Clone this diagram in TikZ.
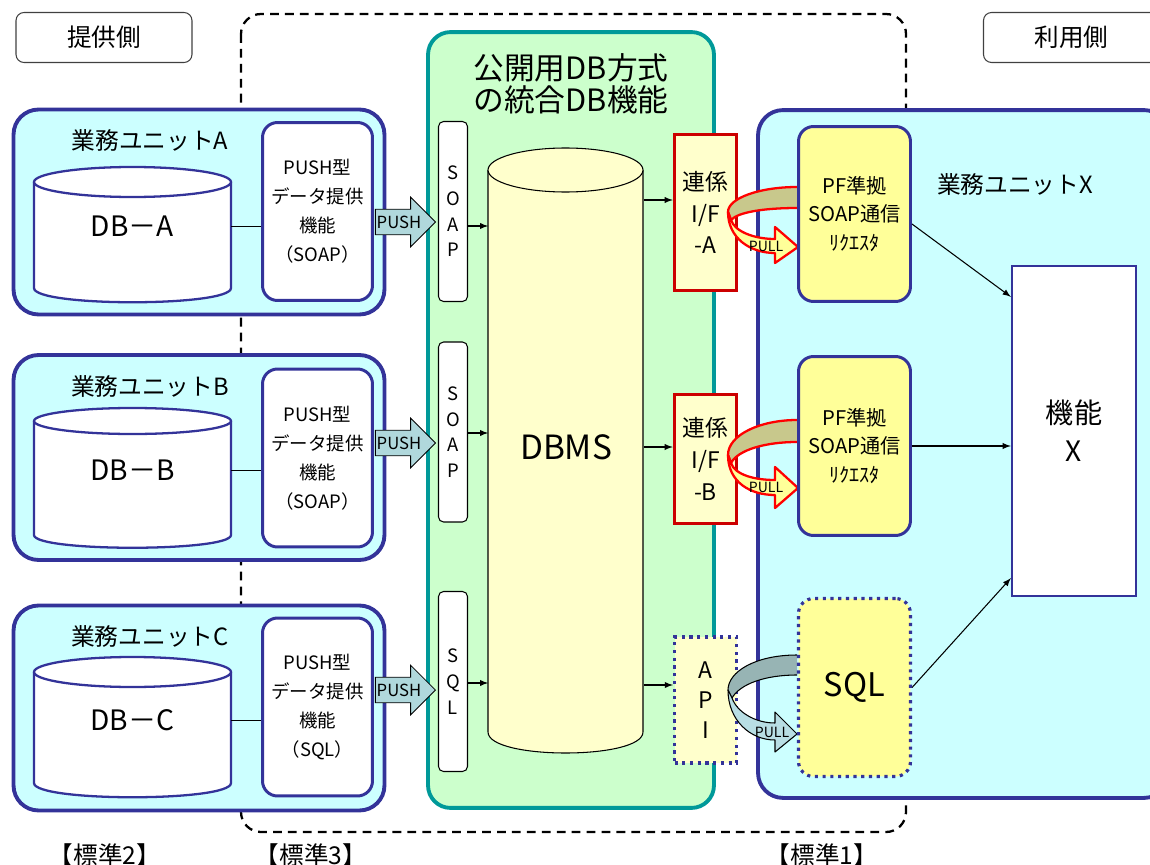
\documentclass[tikz,border=0pt]{standalone}
\usepackage{fontspec}
\setmainfont{Noto Sans CJK JP}
\usetikzlibrary{shapes.arrows}

\definecolor{unitfill}{HTML}{CCFFFF}
\definecolor{unitline}{HTML}{333399}
\definecolor{pubfill}{HTML}{CCFFCC}
\definecolor{publine}{HTML}{009999}
\definecolor{paleyel}{HTML}{FFFFCC}
\definecolor{pfyel}{HTML}{FFFF99}
\definecolor{ifred}{HTML}{CC0000}
\definecolor{pullback}{HTML}{C8C88C}
\definecolor{pushfill}{HTML}{B0D8DC}
\definecolor{apiback}{HTML}{97B4B4}
\definecolor{apifront}{HTML}{B8DEE4}

\begin{document}
\begin{tikzpicture}[x=0.02cm, y=-0.02cm,
  side/.style={draw=black!75, line width=0.6pt, rounded corners=0.16cm,
    minimum width=3.52cm, minimum height=1cm, font=\fontsize{14}{16}\selectfont},
  unit/.style={draw=unitline, line width=2.2pt, fill=unitfill, rounded corners=0.5cm},
  unitlbl/.style={font=\fontsize{13.5}{16}\selectfont},
  dbcyl/.style={draw=unitline, line width=1.3pt, fill=white},
  dbtext/.style={minimum width=3.94cm, inner sep=0pt, font=\fontsize{16}{18}\selectfont},
  pushbox/.style={draw=unitline, line width=1.7pt, fill=white, rounded corners=0.3cm,
    minimum width=2.2cm, minimum height=3.56cm, align=center,
    font=\fontsize{10.5}{16.5}\selectfont},
  proto/.style={draw=black, line width=0.6pt, fill=white, rounded corners=0.1cm,
    minimum width=0.58cm, minimum height=3.6cm, align=center,
    font=\fontsize{10.5}{14.6}\selectfont},
  pusharrow/.style={single arrow, draw=black, line width=0.5pt, fill=pushfill,
    single arrow head extend=0.24cm, minimum height=1.2cm, inner xsep=0pt,
    inner ysep=0.12cm, font=\fontsize{9.5}{10}\selectfont},
  ifbox/.style={draw=ifred, line width=2pt, fill=paleyel, minimum width=1.24cm,
    align=center, font=\fontsize{13}{18}\selectfont},
  dotline/.style={draw=unitline, line width=1.8pt, dash pattern=on 1.8pt off 2.6pt},
  reqbox/.style={draw=unitline, line width=1.7pt, fill=pfyel, rounded corners=0.3cm,
    minimum width=2.24cm, minimum height=3.56cm, align=center,
    font=\fontsize{11.5}{16}\selectfont},
  pullA/.style={draw=red, line width=1.3pt, line join=round},
  pullC/.style={draw=black, line width=0.6pt, line join=round},
  pulltxt/.style={inner sep=0pt, font=\fontsize{8}{9}\selectfont},
  arr/.style={-latex, line width=0.6pt},
  stdlbl/.style={font=\fontsize{14}{16}\selectfont}]
\useasboundingbox (0,0) rectangle (1150,865);
\clip (0,0) rectangle (1150,865);

% provider / user side
\node[side] (giver) at (104,37.5) {提供側};
\node[side] (user) at (1071.5,37.5) {利用側};

% frame of standard 3
\draw[line width=1.3pt, dash pattern=on 5pt off 3.5pt, rounded corners=0.4cm]
  (241,14) rectangle (906,832);

% business units
\node[unit, minimum width=7.42cm, minimum height=4.1cm] (unitA) at (199,212) {};
\node[unit, minimum width=7.42cm, minimum height=4.1cm] (unitB) at (199,457.5) {};
\node[unit, minimum width=7.42cm, minimum height=4.1cm] (unitC) at (199,708) {};
\node[unit, minimum width=8.22cm, minimum height=13.76cm] (unitX) at (963.5,454) {};
\node[unitlbl] (lblA) at (150,140) {業務ユニットA};
\node[unitlbl] (lblB) at (150,386) {業務ユニットB};
\node[unitlbl] (lblC) at (150,636) {業務ユニットC};
\node[unitlbl] (lblX) at (1015,184) {業務ユニットX};

% public DB
\node[draw=publine, line width=2.2pt, fill=pubfill, rounded corners=0.45cm,
  minimum width=5.72cm, minimum height=15.52cm] (pub) at (571,420) {};
\node[align=center, font=\fontsize{17.5}{18.2}\selectfont] (pubttl) at (571,84)
  {公開用DB方式\\の統合DB機能};

% databases of the units
\draw[dbcyl] (34,182) -- (34,288) .. controls (34,307) and (231,307) .. (231,288) -- (231,182);
\draw[dbcyl] (132.5,182) ellipse [x radius=98.5, y radius=15];
\draw[dbcyl] (34,421) -- (34,535) .. controls (34,552) and (231,552) .. (231,535) -- (231,421);
\draw[dbcyl] (132.5,421) ellipse [x radius=98.5, y radius=13];
\draw[dbcyl] (34,672) -- (34,783) .. controls (34,802) and (231,802) .. (231,783) -- (231,672);
\draw[dbcyl] (132.5,672) ellipse [x radius=98.5, y radius=15];
\node[dbtext] (dbA) at (132.5,226) {DB－A};
\node[dbtext] (dbB) at (132.5,470) {DB－B};
\node[dbtext] (dbC) at (132.5,720) {DB－C};

\node[pushbox] (pushA) at (317.5,211.5) {PUSH型\\データ提供\\機能\\（SOAP）};
\node[pushbox] (pushB) at (317.5,458) {PUSH型\\データ提供\\機能\\（SOAP）};
\node[pushbox] (pushC) at (317.5,707) {PUSH型\\データ提供\\機能\\（SQL）};

\draw (dbA.east) -- (dbA.east -| pushA.west);
\draw (dbB.east) -- (dbB.east -| pushB.west);
\draw (dbC.east) -- (dbC.east -| pushC.west);

\node[proto] (soapA) at (453,211.5) {S\\O\\A\\P};
\node[proto] (soapB) at (453,432) {S\\O\\A\\P};
\node[proto] (sqlL) at (453,681.5) {S\\Q\\L};

\node[pusharrow, anchor=tip] (pshA) at (436,222) {PUSH};
\node[pusharrow, anchor=tip] (pshB) at (436,443) {PUSH};
\node[pusharrow, anchor=tip] (pshC) at (436,690) {PUSH};

% DBMS
\draw[draw=black, line width=0.6pt, fill=paleyel] (488,170) -- (488,732)
  .. controls (488,760) and (643,760) .. (643,732) -- (643,170);
\draw[draw=black, line width=0.6pt, fill=paleyel] (565.5,170) ellipse [x radius=77.5, y radius=22];
\node[minimum width=3.1cm, inner sep=0pt, font=\fontsize{19}{21}\selectfont] (dbms) at (566,447) {DBMS};

\coordinate (sA) at ([yshift=-0.29cm]soapA.east);
\coordinate (sB) at ([yshift=-0.02cm]soapB.east);
\coordinate (sC) at ([yshift=-0.03cm]sqlL.east);
\draw[arr] (sA) -- (sA -| dbms.west);
\draw[arr] (sB) -- (sB -| dbms.west);
\draw[arr] (sC) -- (sC -| dbms.west);

% interfaces
\node[ifbox, minimum height=3.12cm] (ifA) at (705.5,212.5) {連係\\I/F\\-A};
\node[ifbox, minimum height=2.58cm] (ifB) at (705.5,459) {連係\\I/F\\-B};
\node[dotline, fill=paleyel, minimum width=1.24cm, minimum height=2.52cm, align=center,
  font=\fontsize{13}{17}\selectfont] (api) at (705.5,700) {A\\P\\I};

\coordinate (iA) at ([yshift=0.25cm]ifA.west);
\coordinate (iB) at ([yshift=0.24cm]ifB.west);
\coordinate (iC) at ([yshift=0.3cm]api.west);
\draw[arr] (iA -| dbms.east) -- (iA);
\draw[arr] (iB -| dbms.east) -- (iB);
\draw[arr] (iC -| dbms.east) -- (iC);

% pull arrows
\draw[pullA, fill=pullback] (797,187) .. controls (760,187) and (728,198) .. (728,212)
  -- (731,220) .. controls (738,212) and (765,208) .. (797,208);
\draw[pullA, fill=pfyel] (728,212) .. controls (728,238) and (750,253) .. (775,253)
  -- (775,263) -- (798,247) -- (775,227) -- (775,239)
  .. controls (755,239) and (735,232) .. (731,220) -- cycle;
\node[pulltxt] (pullA) at (766,246) {PULL};
\draw[pullA, fill=pullback] (797,420) .. controls (760,420) and (728,435) .. (728,455)
  -- (731,463) .. controls (738,450) and (765,442) .. (797,442);
\draw[pullA, fill=pfyel] (728,455) .. controls (728,482) and (750,495) .. (775,495)
  -- (775,508) -- (798,488) -- (775,467) -- (775,480)
  .. controls (755,480) and (735,475) .. (731,463) -- cycle;
\node[pulltxt] (pullB) at (766,487) {PULL};
\draw[pullC, fill=apiback] (797,655) .. controls (755,655) and (728,672) .. (728,690)
  -- (732,698) .. controls (740,684) and (765,675) .. (797,675);
\draw[pullC, fill=apifront] (728,690) .. controls (728,720) and (750,740) .. (775,740)
  -- (775,752) -- (797,734) -- (775,712) -- (775,723)
  .. controls (755,723) and (737,712) .. (732,698) -- cycle;
\node[pulltxt] (pullC) at (772,732) {PULL};

% requesters
\node[reqbox, minimum height=3.5cm] (pfA) at (854.5,214)
  {PF準拠\\SOAP通信\\{\fontsize{11.5}{16}\selectfont ﾘｸｴｽﾀ}};
\node[reqbox, minimum height=3.58cm] (pfB) at (854.5,446)
  {PF準拠\\SOAP通信\\{\fontsize{11.5}{16}\selectfont ﾘｸｴｽﾀ}};
\node[reqbox, dotline, font=\fontsize{18.5}{20}\selectfont] (sqlR) at (854.5,687.5) {SQL};

\node[draw=unitline, line width=1.4pt, fill=white, minimum width=2.48cm, minimum height=6.6cm,
  align=center, font=\fontsize{16}{21.5}\selectfont] (kinoX) at (1074,431) {機能\\X};

\draw[arr] ([yshift=-0.2cm]pfA.east) -- ([yshift=-0.64cm]kinoX.north west);
\draw[arr] (pfB.east) -- (pfB.east -| kinoX.west);
\draw[arr] (sqlR.east) -- ([yshift=0.38cm]kinoX.south west);

% standards
\node[stdlbl] (std2) at (105,855) {【標準2】};
\node[stdlbl] (std3) at (311,855) {【標準3】};
\node[stdlbl] (std1) at (822,855) {【標準1】};
\end{tikzpicture}
\end{document}
